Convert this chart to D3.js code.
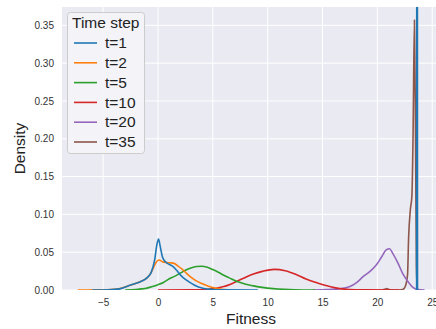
<!DOCTYPE html>
<html><head><meta charset="utf-8">
<script src="https://cdn.jsdelivr.net/npm/d3@7"></script>
<style>html,body{margin:0;padding:0;background:#fff;overflow:hidden}</style>
</head><body>
<svg id="chart" width="436" height="329"></svg>
<script>
const seriesNames = ["t=1","t=2","t=5","t=10","t=20","t=35"];
const seriesColors = ["#1f77b4","#ff7f0e","#2ca02c","#d62728","#9467bd","#8c564b"];
const xTicks = [-5,0,5,10,15,20,25];
const yTicks = [0,0.05,0.10,0.15,0.20,0.25,0.30,0.35];

const t1X = [-6,-4.5,-3.5,-2.8,-2.2,-1.6,-1.0,-0.6,-0.3,-0.1,0.05,0.2,0.4,0.7,1.0,1.3,1.7,2.1,2.5,2.9,3.3,3.7,4.2,5.0,6.0,9.1,null,23.58,23.62,23.66];
const t1Y = [0,0.0003,0.0015,0.005,0.008,0.011,0.016,0.024,0.040,0.060,0.0675,0.058,0.044,0.037,0.034,0.032,0.026,0.019,0.014,0.010,0.0065,0.004,0.002,0.0007,0.0001,0,null,0,1.5,0];
const t2X = [-7.3,-5.5,-4,-3.2,-2.5,-1.8,-1.2,-0.7,-0.4,-0.1,0.1,0.4,0.7,1.0,1.4,1.8,2.2,2.6,3.0,3.5,4.0,4.6,5.2,5.8,6.5];
const t2Y = [0,0.0001,0.001,0.003,0.0065,0.01,0.014,0.021,0.030,0.038,0.0397,0.0375,0.0365,0.036,0.0355,0.032,0.0275,0.022,0.017,0.012,0.0085,0.005,0.0025,0.001,0];
const t5X = [-3,-2,-1,-0.5,0,0.5,1.0,1.5,2.0,2.5,3.0,3.5,4.0,4.5,5.0,5.5,6.0,6.5,7.0,7.5,8.0,8.7,9.5,10.5,11.5,12.5,14.3];
const t5Y = [0,0.0006,0.0025,0.0045,0.007,0.010,0.0145,0.018,0.022,0.026,0.029,0.031,0.0315,0.030,0.027,0.0235,0.0195,0.016,0.0125,0.0098,0.0075,0.0055,0.0035,0.0018,0.0008,0.0003,0];
const t10X = [0,3,4.5,5.2,6.0,6.9,7.8,8.7,9.6,10.6,11.6,12.6,13.5,14.5,15.4,16.2,17.0,18.0,19,22];
const t10Y = [0,0.0002,0.001,0.002,0.0045,0.0095,0.0155,0.021,0.025,0.0273,0.0255,0.0205,0.0145,0.0095,0.0055,0.0028,0.0012,0.0003,0.0001,0];
const t20X = [14.1,15.5,16.5,17.0,17.5,18.1,18.7,19.3,19.9,20.4,20.8,21.1,21.4,21.9,22.3,22.8,23.25,23.7,24.3];
const t20Y = [0,0.0005,0.0015,0.0025,0.0045,0.0097,0.0176,0.0243,0.033,0.044,0.053,0.0545,0.0485,0.035,0.022,0.011,0.0035,0.0005,0];
const t35X = [20.4,20.7,20.85,21.0,21.3,22.0,22.3,22.55,22.75,22.85,23.0,23.15,23.25,23.38,23.48,23.56,23.65];
const t35Y = [0,0.001,0.002,0.001,0,0,0.0005,0.005,0.02,0.07,0.105,0.125,0.2,0.357,0.2,0.03,0];

const allX = [t1X,t2X,t5X,t10X,t20X,t35X];
const allY = [t1Y,t2Y,t5Y,t10Y,t20Y,t35Y];

const L = 62, R = 440, T = 7, B = 290;
const x = d3.scaleLinear().domain([-8.75, 25.71]).range([L, R]);
const y = d3.scaleLinear().domain([0, 0.3743]).range([B, T]);
const font = "'Liberation Sans', Arial, sans-serif";

const svg = d3.select("#chart");
svg.append("defs").append("clipPath").attr("id","clip")
  .append("rect").attr("x",L).attr("y",T).attr("width",R-L).attr("height",B-T);

svg.append("rect").attr("x",L).attr("y",T).attr("width",R-L).attr("height",B-T).attr("fill","#eaeaf2");

// grid
svg.append("g").selectAll("line").data(xTicks).join("line")
  .attr("x1",d=>x(d)).attr("x2",d=>x(d)).attr("y1",T).attr("y2",B)
  .attr("stroke","#fff").attr("stroke-width",1);
svg.append("g").selectAll("line").data(yTicks).join("line")
  .attr("x1",L).attr("x2",R).attr("y1",d=>y(d)).attr("y2",d=>y(d))
  .attr("stroke","#fff").attr("stroke-width",1);

// axes (labels only)
const xAxis = svg.append("g").attr("transform",`translate(0,${B})`)
  .call(d3.axisBottom(x).tickValues(xTicks).tickSize(0).tickPadding(9).tickFormat(d=>d<0?"\u2212"+Math.abs(d):d));
const yAxis = svg.append("g").attr("transform",`translate(${L},0)`)
  .call(d3.axisLeft(y).tickValues(yTicks).tickSize(0).tickPadding(8).tickFormat(d3.format(".2f")));
[xAxis,yAxis].forEach(g=>{
  g.select(".domain").remove();
  g.selectAll("text").attr("font-family",font).attr("font-size",10).attr("fill","#333");
});

// curves, drawn last-to-first so t=1 is on top
const line = d3.line().defined(d=>d[0]!==null && d[1]!==null)
  .x(d=>x(d[0])).y(d=>y(d[1])).curve(d3.curveMonotoneX);
const g = svg.append("g").attr("clip-path","url(#clip)");
for (let i = seriesNames.length-1; i >= 0; i--) {
  const pts = allX[i].map((v,j)=>[v, allY[i][j]]);
  g.append("path").attr("d", line(pts)).attr("fill","none")
    .attr("stroke", seriesColors[i]).attr("stroke-width",1.6).attr("stroke-linejoin","round");
}

// axis titles
svg.append("text").attr("x",(L+R)/2).attr("y",324).attr("text-anchor","middle")
  .attr("font-family",font).attr("font-size",15.5).attr("fill","#222").text("Fitness");
svg.append("text").attr("transform",`translate(25,${(T+B)/2}) rotate(-90)`).attr("text-anchor","middle")
  .attr("font-family",font).attr("font-size",15.5).attr("fill","#222").text("Density");

// legend
const lg = svg.append("g");
lg.append("rect").attr("x",67.5).attr("y",12.5).attr("width",77).attr("height",141).attr("rx",3)
  .attr("fill","#f4f4f8").attr("fill-opacity",0.9).attr("stroke","#cccccc").attr("stroke-width",1);
lg.append("text").attr("x",72).attr("y",27.5).attr("font-family",font).attr("font-size",15.5).attr("fill","#222").text("Time step");
seriesNames.forEach((n,i)=>{
  const yy = 43 + i*19.8;
  lg.append("line").attr("x1",74).attr("x2",97).attr("y1",yy).attr("y2",yy)
    .attr("stroke",seriesColors[i]).attr("stroke-width",1.6);
  lg.append("text").attr("x",105).attr("y",yy+5.2).attr("font-family",font).attr("font-size",15.5)
    .attr("fill","#222").text(n);
});
</script>
</body></html>
